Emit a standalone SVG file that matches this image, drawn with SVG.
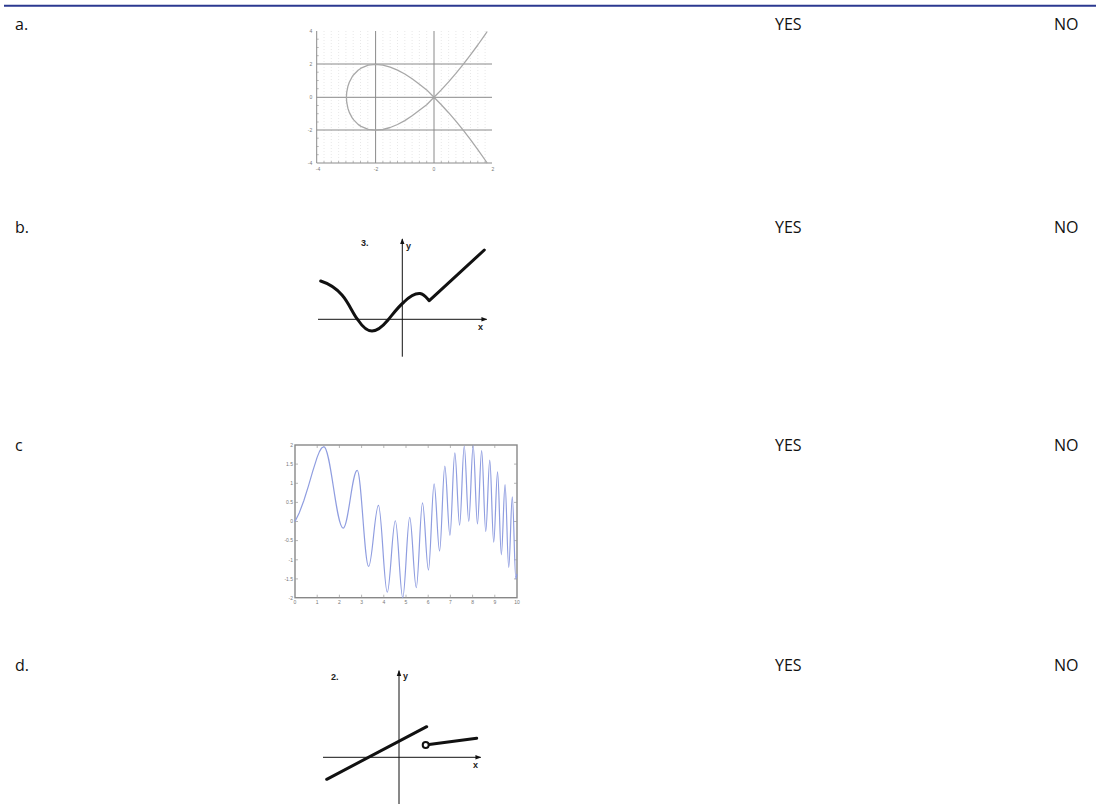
<svg xmlns="http://www.w3.org/2000/svg" width="1096" height="805" viewBox="0 0 1096 805">
<defs>
<marker id="arr" viewBox="0 0 8 8" refX="7" refY="4" markerWidth="6" markerHeight="6" markerUnits="userSpaceOnUse" orient="auto">
<path d="M0,1 L8,4 L0,7 Z" fill="#111"/>
</marker>
</defs>
<style>
.lbl{font-family:"Open Sans","Liberation Sans",sans-serif;font-size:16px;fill:#111}
.tiny{font-family:"Liberation Sans",sans-serif;font-size:5px;fill:#777}
.small{font-family:"Liberation Sans",sans-serif;font-size:9px;font-weight:bold;fill:#222}
.ax{stroke:#111;stroke-width:1;fill:none}
.thick{stroke:#111;stroke-width:3;fill:none;stroke-linecap:round;stroke-linejoin:round}
.ga{stroke:#8a8a8a;stroke-width:1;fill:none}
.grid{stroke:#e2e2e2;stroke-width:0.8;stroke-dasharray:1 2;fill:none}
.tick{stroke:#999;stroke-width:0.7;fill:none}
</style>
<rect width="1096" height="805" fill="#fff"/>
<line id="topline" x1="4" y1="5.7" x2="1096" y2="5.7" stroke="#2b3990" stroke-width="2"/>

<g id="labels">
<text class="lbl" x="15" y="30">a.</text>
<text class="lbl" x="775" y="30">YES</text>
<text class="lbl" x="1054" y="30">NO</text>
<text class="lbl" x="15" y="233">b.</text>
<text class="lbl" x="775" y="233">YES</text>
<text class="lbl" x="1054" y="233">NO</text>
<text class="lbl" x="15" y="451">c</text>
<text class="lbl" x="775" y="451">YES</text>
<text class="lbl" x="1054" y="451">NO</text>
<text class="lbl" x="15" y="671">d.</text>
<text class="lbl" x="775" y="671">YES</text>
<text class="lbl" x="1054" y="671">NO</text>
</g>

<g id="graph-a">
<path class="grid" d="M324,31V163M331.3,31V163M338.6,31V163M345.9,31V163M353.2,31V163M360.5,31V163M367.8,31V163M382.9,31V163M390.2,31V163M397.5,31V163M404.8,31V163M412.1,31V163M419.4,31V163M426.7,31V163M441.3,31V163M448.6,31V163M455.9,31V163M463.2,31V163M470.5,31V163M477.8,31V163M485.1,31V163"/>
<path class="ga" d="M316.7,31V163H492"/>
<path class="ga" d="M316.7,64H492M316.7,130H492M375.6,31V163M434,31V163"/>
<path class="ga" stroke-width="1.8" d="M316.7,97.3H492"/>
<path class="tick" d="M316.7,39.2h2M316.7,47.5h2M316.7,55.7h2M316.7,72.2h2M316.7,80.5h2M316.7,88.7h2M316.7,105.5h2M316.7,113.7h2M316.7,122h2M316.7,138.2h2M316.7,146.5h2M316.7,154.7h2M324,163v-2M331.3,163v-2M338.6,163v-2M345.9,163v-2M353.2,163v-2M360.5,163v-2M367.8,163v-2M382.9,163v-2M390.2,163v-2M397.5,163v-2M404.8,163v-2M412.1,163v-2M419.4,163v-2M426.7,163v-2M441.3,163v-2M448.6,163v-2M455.9,163v-2M463.2,163v-2M470.5,163v-2M477.8,163v-2M485.1,163v-2"/>
<path d="M487.2,31.5 L485.1,34.6 L477.8,45 L470.5,54.9 L463.2,64.4 L455.9,73.4 L448.6,81.9 L441.3,89.9 L434,97.3 L426.7,104.7 L419.4,110.3 L412.1,115.8 L404.8,120.6 L397.5,124.5 L390.2,127.5 L382.9,129.5 L375.6,130.2 L368.3,129.4 L361,126.4 L358.1,124.35 L353.7,119.9 L352.2,117.9 L349.3,112.4 L347.9,108.2 L346.7,102.2 L346.4,97.3 L346.7,92.4 L347.9,86.4 L349.3,82.2 L352.2,76.7 L353.7,74.7 L358.1,70.25 L361,68.2 L368.3,65.2 L375.6,64.4 L382.9,65.1 L390.2,67.1 L397.5,70.1 L404.8,74 L412.1,78.8 L419.4,84.3 L426.7,89.9 L434,97.3 L441.3,104.7 L448.6,112.7 L455.9,121.2 L463.2,130.2 L470.5,139.7 L477.8,149.6 L485.1,160 L487.2,163.1" fill="none" stroke="#a8a8a8" stroke-width="1.3" stroke-linejoin="round"/>
<g class="tiny" text-anchor="middle">
<text x="311" y="33">4</text><text x="311" y="66">2</text><text x="311" y="99">0</text><text x="310" y="132">-2</text><text x="310" y="165">-4</text>
<text x="318" y="171">-4</text><text x="376" y="171">-2</text><text x="434" y="171">0</text><text x="493" y="171">2</text>
</g>
</g>

<g id="graph-b">
<line class="ax" x1="318" y1="319.3" x2="486.7" y2="319.3" marker-end="url(#arr)"/>
<line class="ax" x1="402.3" y1="356.7" x2="402.3" y2="239" marker-end="url(#arr)"/>
<text class="small" x="361" y="246">3.</text>
<text class="small" x="406" y="249" font-size="8">y</text>
<text class="small" x="478" y="330" font-size="7">x</text>
<path class="thick" d="M320.7,281 C330,284 336,288 342,295 C349,303 353,314 358,320 C362,326 366,331 372,331 C378,331 383,326 388,320 C393,314 398,307 404,302 C409,297 414,293 420,293.5 C424,294 426,297 429.3,300.7 L484.3,250"/>
</g>

<g id="graph-c">
<rect x="295" y="445" width="222" height="152.7" fill="none" stroke="#888" stroke-width="1.4"/>
<path class="tick" d="M317.2,597.7v-3M339.4,597.7v-3M361.6,597.7v-3M383.8,597.7v-3M406,597.7v-3M428.2,597.7v-3M450.4,597.7v-3M472.6,597.7v-3M494.8,597.7v-3M317.2,445v3M339.4,445v3M361.6,445v3M383.8,445v3M406,445v3M428.2,445v3M450.4,445v3M472.6,445v3M494.8,445v3M295,464.1h3M295,483.3h3M295,502.4h3M295,521.5h3M295,540.6h3M295,559.8h3M295,578.9h3M517,464.1h-3M517,483.3h-3M517,502.4h-3M517,521.5h-3M517,540.6h-3M517,559.8h-3M517,578.9h-3"/>
<path fill="none" stroke="#8f9de0" stroke-width="1.2" stroke-linejoin="round" d="M295,521.5 L299.44,512.4 L303.88,500.5 L308.32,486.4 L312.76,471.2 L317.2,457.1 L319.42,451.6 L321.64,447.9 L323.75,446.68 C330.75,446.68 336.19,528.19 343.19,528.19 C348.24,528.19 352.17,470.47 357.22,470.47 C361.32,470.47 364.52,566.41 368.62,566.41 C372.17,566.41 374.92,505.47 378.47,505.47 C381.64,505.47 384.11,592.26 387.28,592.26 C390.17,592.26 392.43,520.77 395.32,520.77 C398,520.77 400.08,597.62 402.76,597.62 C405.27,597.62 407.21,517.41 409.72,517.41 C412.08,517.41 413.92,587.63 416.28,587.63 C418.52,587.63 420.26,502.91 422.5,502.91 C424.64,502.91 426.3,570.04 428.44,570.04 C430.48,570.04 432.08,483.9 434.12,483.9 C436.09,483.9 437.61,551.07 439.58,551.07 C441.47,551.07 442.94,466.04 444.83,466.04 C446.66,466.04 448.09,535.27 449.92,535.27 C451.69,535.27 453.06,452.88 454.83,452.88 C456.55,452.88 457.89,525.13 459.61,525.13 C461.28,525.13 462.57,446 464.24,446 C465.87,446 467.13,521.52 468.76,521.52 C470.34,521.52 471.58,445.58 473.16,445.58 C474.7,445.58 475.91,524.02 477.45,524.02 C478.96,524.02 480.14,450.7 481.65,450.7 C483.13,450.7 484.27,531.48 485.75,531.48 C487.2,531.48 488.32,460.07 489.77,460.07 C491.18,460.07 492.29,542.27 493.7,542.27 C495.09,542.27 496.17,471.89 497.56,471.89 C498.92,471.89 499.99,554.78 501.35,554.78 C502.69,554.78 503.72,484.7 505.06,484.7 C506.38,484.7 507.4,567.44 508.72,567.44 C510.01,567.44 511.02,496.87 512.31,496.87 C513.58,496.87 514.57,578.84 515.84,578.84 L517,574"/>
<g class="tiny" text-anchor="end">
<text x="293" y="447">2</text><text x="293" y="466">1.5</text><text x="293" y="485">1</text><text x="293" y="504">0.5</text><text x="293" y="523">0</text><text x="293" y="542">-0.5</text><text x="293" y="562">-1</text><text x="293" y="581">-1.5</text><text x="293" y="600">-2</text>
</g>
<g class="tiny" text-anchor="middle">
<text x="295" y="604">0</text><text x="317.2" y="604">1</text><text x="339.4" y="604">2</text><text x="361.6" y="604">3</text><text x="383.8" y="604">4</text><text x="406" y="604">5</text><text x="428.2" y="604">6</text><text x="450.4" y="604">7</text><text x="472.6" y="604">8</text><text x="494.8" y="604">9</text><text x="517" y="604">10</text>
</g>
</g>

<g id="graph-d">
<line class="ax" x1="323" y1="757.3" x2="480.7" y2="757.3" marker-end="url(#arr)"/>
<line class="ax" x1="399" y1="804" x2="399" y2="670.7" marker-end="url(#arr)"/>
<text class="small" x="331" y="680">2.</text>
<text class="small" x="403" y="679" font-size="8">y</text>
<text class="small" x="473" y="768" font-size="7">x</text>
<line class="thick" x1="326.7" y1="779.3" x2="426.7" y2="726.7"/>
<line class="thick" x1="429" y1="744.5" x2="476.7" y2="738.3"/>
<circle cx="425.7" cy="745" r="3" fill="#fff" stroke="#111" stroke-width="2"/>
</g>
</svg>
